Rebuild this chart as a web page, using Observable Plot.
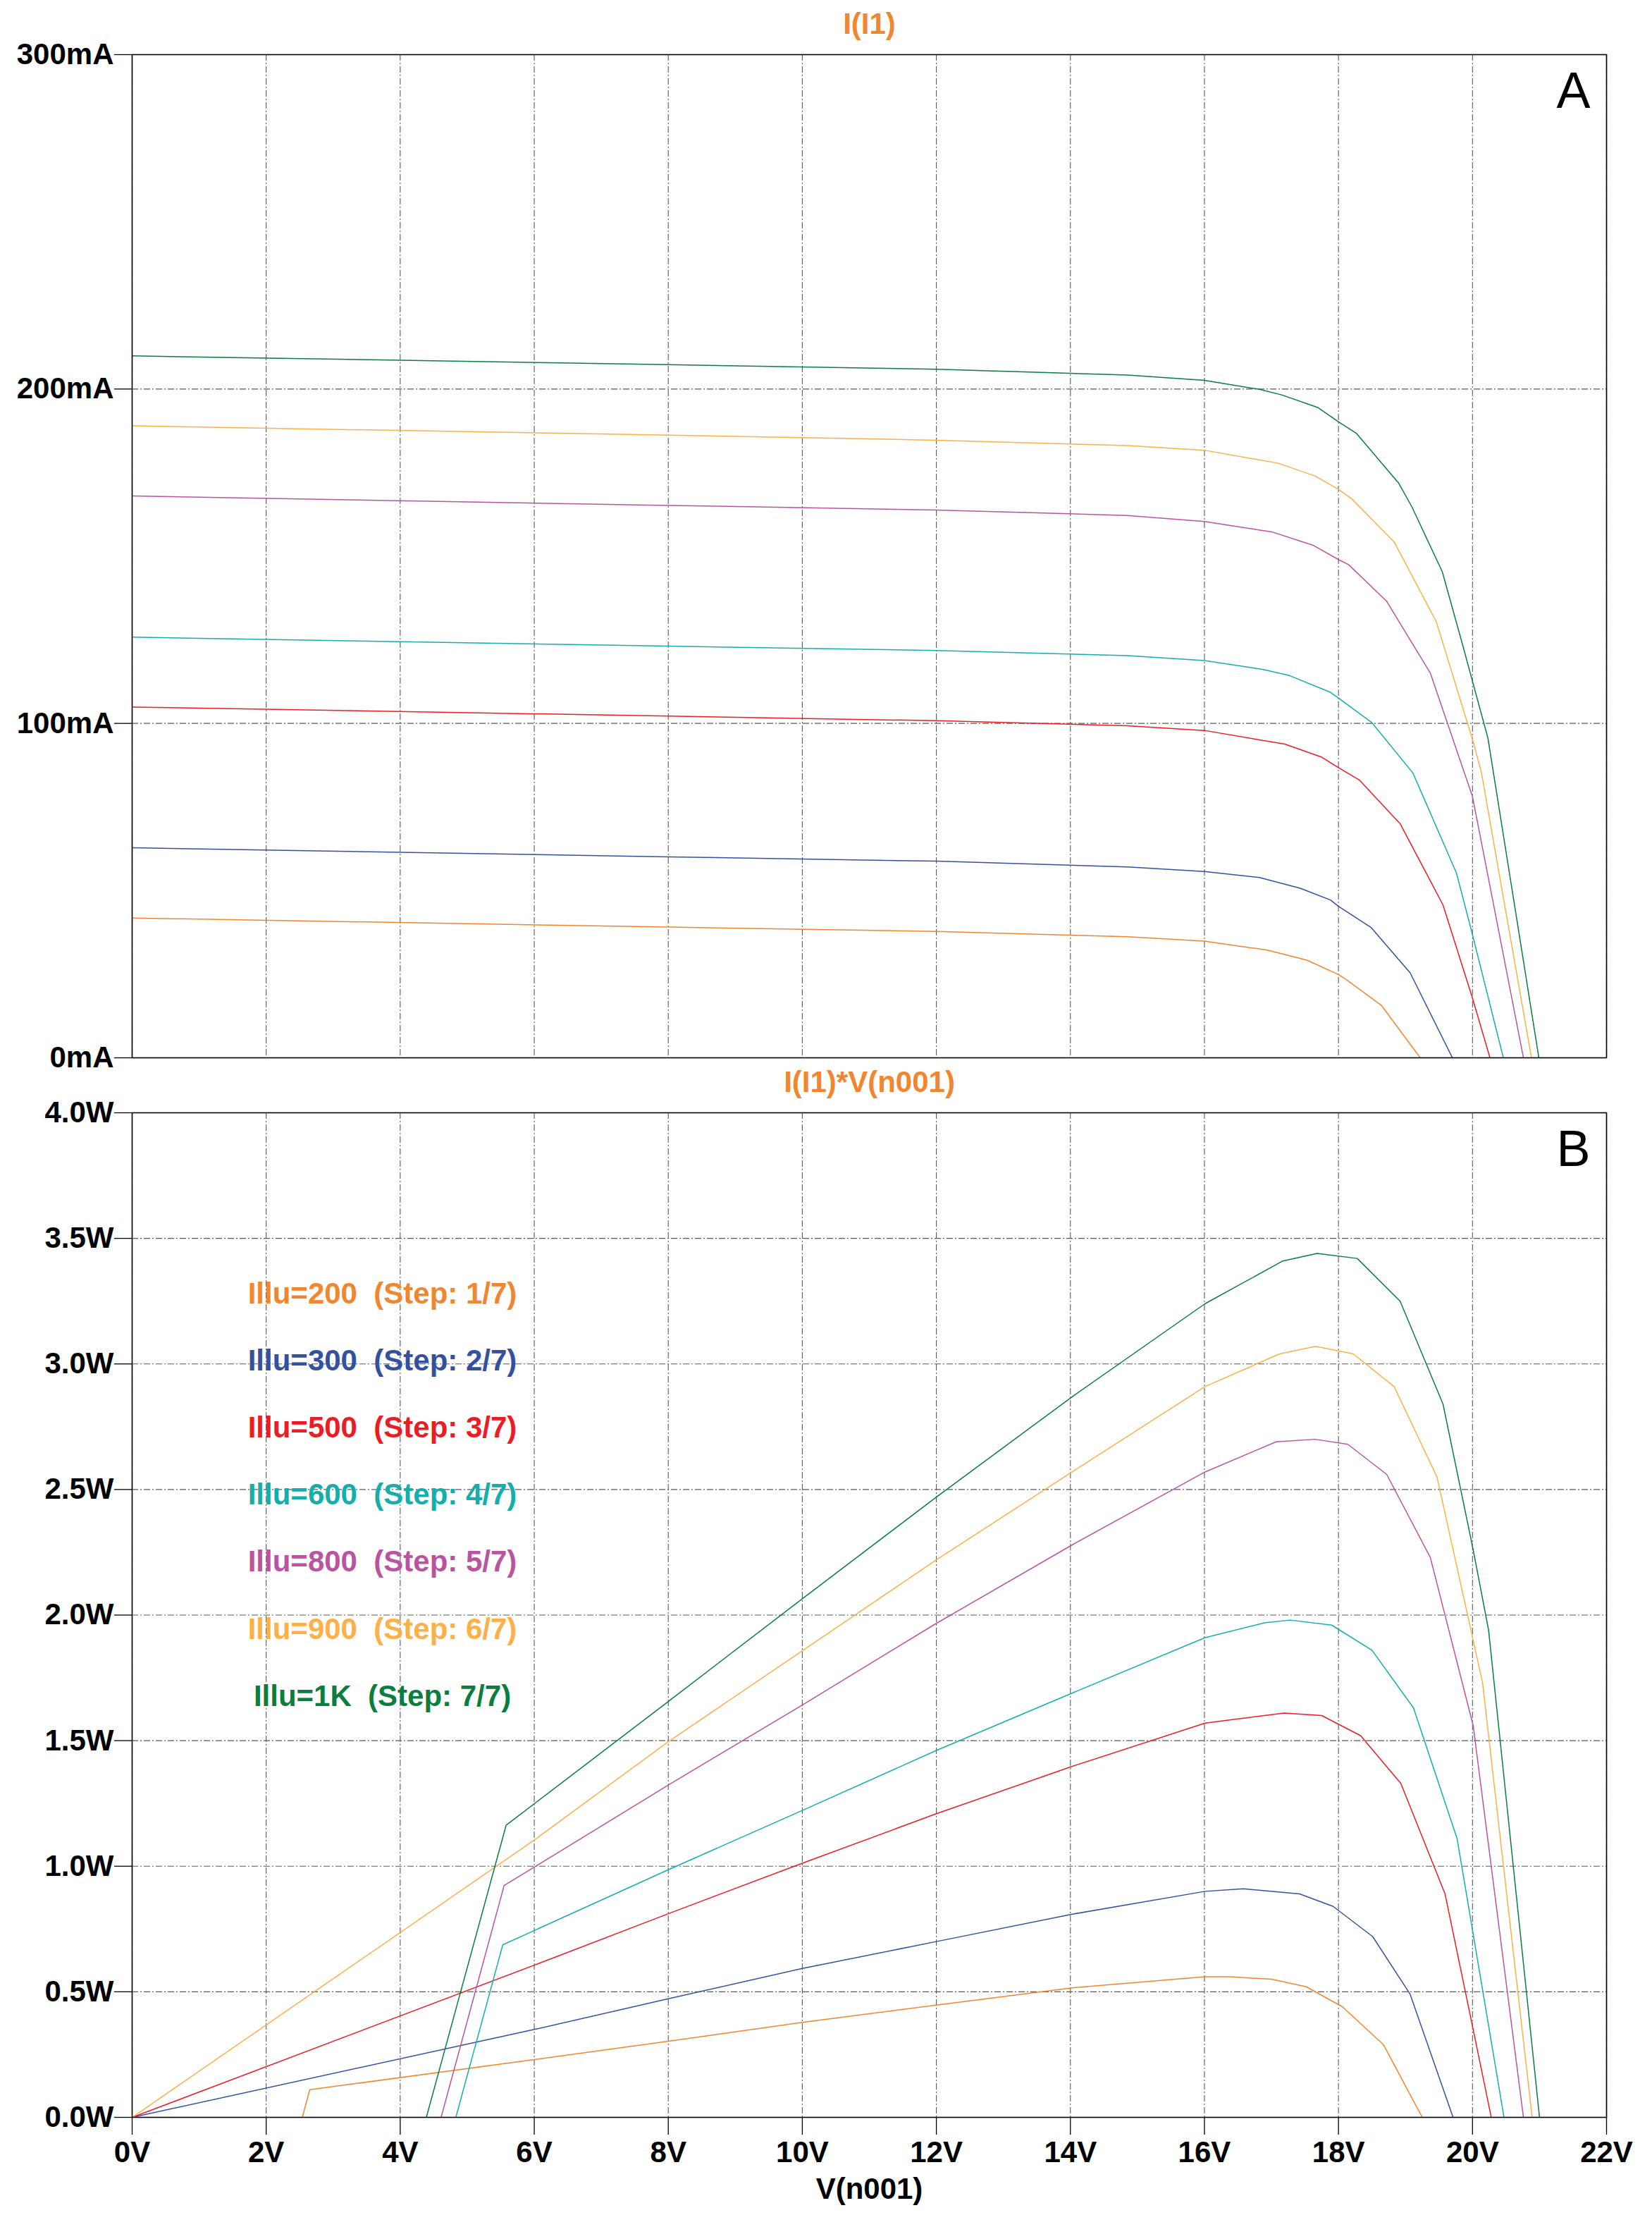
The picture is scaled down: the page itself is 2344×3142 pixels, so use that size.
<!DOCTYPE html>
<html><head><meta charset="utf-8">
<script src="https://cdn.jsdelivr.net/npm/d3@7"></script>
<script src="https://cdn.jsdelivr.net/npm/@observablehq/plot@0.6"></script>
<style>
html,body{margin:0;padding:0;background:#fff;}
#chart svg{display:block;}
#chart text{white-space:pre;}
</style></head><body><div id="chart"></div>
<script>
// ---- series ----
const seriesKeys = ["200","300","500","600","800","900","1K"];
const legendLabels = ["Illu=200  (Step: 1/7)","Illu=300  (Step: 2/7)","Illu=500  (Step: 3/7)","Illu=600  (Step: 4/7)","Illu=800  (Step: 5/7)","Illu=900  (Step: 6/7)","Illu=1K  (Step: 7/7)"];
const seriesColors = ["#F0862F","#3451A1","#EC1C24","#14AEAD","#B854A0","#FBB04A","#0B7D40"];

// ---- panel A: I(I1) in mA vs V(n001) ----
const vA200 = [0, 8, 12, 14.85, 16, 16.94, 17.53, 18, 18.11, 18.64, 19.22];
const iA200 = [41.8, 39.1, 37.8, 36.2, 34.9, 32.2, 29.2, 24.9, 23.5, 15.7, 0];
const vA300 = [0, 8, 12, 14.85, 16, 16.82, 17.43, 17.88, 18, 18.49, 19.07, 19.7];
const iA300 = [62.8, 60.1, 58.8, 57.1, 55.7, 53.9, 50.7, 47.2, 45.3, 38.9, 25.4, 0];
const vA500 = [0, 8, 12, 14.85, 16, 17.2, 17.75, 18, 18.31, 18.92, 19.56, 20, 20.26];
const iA500 = [104.9, 102.2, 100.8, 99.3, 97.9, 93.8, 89.9, 86.8, 83.1, 70, 45.7, 17.8, 0];
const vA600 = [0, 8, 12, 14.85, 16, 16.88, 17.27, 17.88, 18, 18.5, 19.11, 19.76, 20, 20.46];
const iA600 = [125.8, 123.1, 121.8, 120.3, 118.8, 116.1, 114.3, 109.3, 107.6, 100.2, 85.2, 55.3, 36.8, 0];
const vA800 = [0, 8, 12, 14.85, 16, 17.02, 17.63, 18, 18.15, 18.72, 19.37, 20, 20.76];
const iA800 = [168.0, 165.2, 163.8, 162.2, 160.4, 157.2, 153.2, 149, 147.5, 136.5, 115.1, 78.1, 0];
const vA900 = [0, 8, 12, 14.85, 16, 17.1, 17.65, 18, 18.2, 18.83, 19.46, 20, 20.13, 20.88];
const iA900 = [189.0, 186.2, 184.7, 183.1, 181.7, 177.8, 174, 170, 167.1, 154.3, 130.4, 95.2, 85.6, 0];
const vA1K = [0, 8, 12, 14.85, 16, 16.82, 17.16, 17.69, 18, 18.27, 18.9, 19.1, 19.55, 19.84, 20, 20.23, 20.99];
const iA1K = [209.9, 207.3, 205.9, 204.2, 202.6, 199.9, 198.2, 194.5, 190.2, 186.7, 171.8, 164.6, 145.3, 124.4, 112.6, 95.6, 0];

// ---- panel B: I(I1)*V(n001) in W vs V(n001) ----
const vB200 = [2.54, 2.65, 6, 8, 10, 12, 14.03, 16.01, 16.37, 17.0, 17.52, 18.06, 18.67, 19.25];
const pB200 = [0, 0.11, 0.23, 0.303, 0.378, 0.447, 0.516, 0.56, 0.56, 0.55, 0.52, 0.44, 0.29, 0];
const vB300 = [0, 6, 8, 10, 12, 14.03, 16.01, 16.58, 17.42, 17.92, 18.51, 19.07, 19.71];
const pB300 = [0, 0.35, 0.472, 0.593, 0.70, 0.809, 0.90, 0.91, 0.89, 0.84, 0.72, 0.49, 0];
const vB500 = [0, 6, 8, 10, 12, 14.03, 16.01, 17.19, 17.75, 18.33, 18.93, 19.59, 20.01, 20.28];
const pB500 = [0, 0.606, 0.811, 1.012, 1.209, 1.398, 1.57, 1.61, 1.60, 1.52, 1.33, 0.89, 0.35, 0];
const vB600 = [4.83, 5.53, 8, 10, 12, 14.03, 16.01, 16.91, 17.28, 17.9, 18.5, 19.12, 19.77, 20.01, 20.47];
const pB600 = [0, 0.687, 0.986, 1.222, 1.461, 1.69, 1.91, 1.97, 1.98, 1.96, 1.86, 1.63, 1.11, 0.73, 0];
const vB800 = [4.61, 5.55, 8, 10, 12, 14.03, 16.01, 17.07, 17.65, 18.14, 18.72, 19.37, 20.01, 20.76];
const pB800 = [0, 0.923, 1.323, 1.642, 1.967, 2.28, 2.57, 2.69, 2.70, 2.68, 2.56, 2.23, 1.56, 0];
const vB900 = [0, 6, 8, 10, 12, 14.03, 16.01, 17.12, 17.66, 18.22, 18.83, 19.47, 20.01, 20.15, 20.89];
const pB900 = [0, 1.104, 1.496, 1.858, 2.22, 2.571, 2.91, 3.04, 3.07, 3.04, 2.91, 2.55, 1.90, 1.73, 0];
const vB1K = [4.39, 5.58, 8, 10, 12, 14.03, 16.01, 17.17, 17.68, 18.28, 18.92, 19.56, 20.01, 20.24, 21.0];
const pB1K = [0, 1.163, 1.656, 2.065, 2.47, 2.87, 3.24, 3.41, 3.44, 3.42, 3.25, 2.84, 2.26, 1.94, 0];

// ---- ticks ----
const xTicks = [0, 2, 4, 6, 8, 10, 12, 14, 16, 18, 20, 22];
const yTicksA = [0, 100, 200, 300];
const yTicksB = [0, 0.5, 1.0, 1.5, 2.0, 2.5, 3.0, 3.5, 4.0];

function rows(vs, ys, key) { return vs.map((v, i) => ({v, y: ys[i], s: key})); }
const dataA = [
  ...rows(vA200, iA200, "200"), ...rows(vA300, iA300, "300"), ...rows(vA500, iA500, "500"),
  ...rows(vA600, iA600, "600"), ...rows(vA800, iA800, "800"), ...rows(vA900, iA900, "900"),
  ...rows(vA1K, iA1K, "1K")
];
const dataB = [
  ...rows(vB200, pB200, "200"), ...rows(vB300, pB300, "300"), ...rows(vB500, pB500, "500"),
  ...rows(vB600, pB600, "600"), ...rows(vB800, pB800, "800"), ...rows(vB900, pB900, "900"),
  ...rows(vB1K, pB1K, "1K")
];

const FONT = "'Liberation Sans', Arial, Helvetica, sans-serif";
const W = 2344, ML = 187, MR = 65;
const gridStyle = {stroke: "#5a5a5a", strokeOpacity: 1, strokeWidth: 1.1, strokeDasharray: "9,3,2,3"};
const colorScale = {domain: seriesKeys, range: seriesColors};
const titleColor = "#F0862F";

const chartA = Plot.plot({
  width: W, height: 1510,
  marginLeft: ML, marginRight: MR, marginTop: 77, marginBottom: 10,
  style: {fontFamily: FONT, background: "#fff", overflow: "visible"},
  x: {domain: [0, 22], axis: null},
  y: {domain: [0, 300], axis: null},
  color: colorScale,
  marks: [
    Plot.gridX(xTicks, gridStyle),
    Plot.gridY(yTicksA, gridStyle),
    Plot.line(dataA, {x: "v", y: "y", z: "s", stroke: "s", strokeWidth: 1.5, clip: true}),
    Plot.axisY(yTicksA, {tickSize: 25, tickPadding: 1, fontSize: 42, fontWeight: "bold", tickFormat: d => d + "mA", label: null, stroke: "black", strokeWidth: 1.3}),
    Plot.frame({stroke: "black", strokeWidth: 1.6}),
    Plot.text(["I(I1)"], {frameAnchor: "top", dy: -30, lineAnchor: "bottom", fontSize: 42, fontWeight: "bold", fill: titleColor}),
    Plot.text(["A"], {frameAnchor: "top-right", dx: -23, dy: 75, lineAnchor: "bottom", fontSize: 72, fill: "black"})
  ]
});

const legendMarks = legendLabels.map((t, i) =>
  Plot.text([t], {frameAnchor: "top-left", dx: 355, dy: 270 + i * 95.2, lineAnchor: "bottom", textAnchor: "middle",
    fontSize: 42, fontWeight: "bold", fill: seriesColors[i]})
);

const chartB = Plot.plot({
  width: W, height: 1632,
  marginLeft: ML, marginRight: MR, marginTop: 68, marginBottom: 139,
  style: {fontFamily: FONT, background: "#fff", overflow: "visible"},
  x: {domain: [0, 22]},
  y: {domain: [0, 4]},
  color: colorScale,
  marks: [
    Plot.gridX(xTicks, gridStyle),
    Plot.gridY(yTicksB, gridStyle),
    Plot.line(dataB, {x: "v", y: "y", z: "s", stroke: "s", strokeWidth: 1.5, clip: true}),
    Plot.axisY(yTicksB, {tickSize: 25, tickPadding: 1, fontSize: 42, fontWeight: "bold", tickFormat: d => d3.format(".1f")(d) + "W", label: null, stroke: "black", strokeWidth: 1.3}),
    Plot.axisX(xTicks, {tickSize: 25, tickPadding: 9, fontSize: 42, fontWeight: "bold", tickFormat: d => d + "V", label: null, stroke: "black", strokeWidth: 1.3}),
    Plot.frame({stroke: "black", strokeWidth: 1.6}),
    Plot.text(["I(I1)*V(n001)"], {frameAnchor: "top", dy: -30, lineAnchor: "bottom", fontSize: 42, fontWeight: "bold", fill: titleColor}),
    Plot.text(["B"], {frameAnchor: "top-right", dx: -23, dy: 75, lineAnchor: "bottom", fontSize: 72, fill: "black"}),
    Plot.text(["V(n001)"], {frameAnchor: "bottom", dy: 115, lineAnchor: "bottom", fontSize: 42, fontWeight: "bold", fill: "black"}),
    ...legendMarks
  ]
});

document.getElementById("chart").append(chartA, chartB);
</script>
</body></html>
